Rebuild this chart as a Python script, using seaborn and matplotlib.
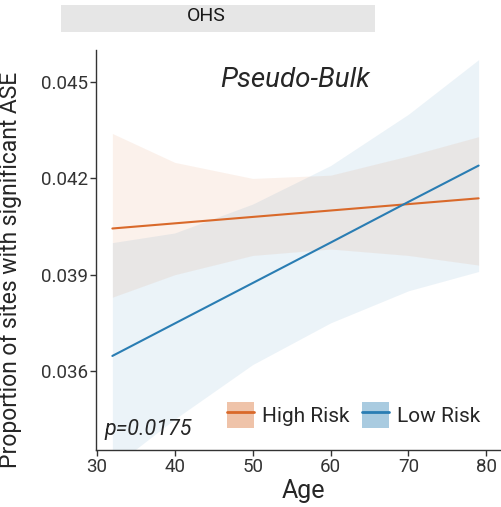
import matplotlib
matplotlib.use("Agg")
import matplotlib.pyplot as plt
from matplotlib.patches import Patch, Rectangle
from matplotlib.lines import Line2D
import seaborn as sns
import pandas as pd

# Fitted proportion of sites with significant ASE by age, with 95% CI
age = [32, 40, 50, 60, 70, 79]
high_fit = [0.04044, 0.04060, 0.04080, 0.04100, 0.04120, 0.04138]
high_lo = [0.03830, 0.03900, 0.03960, 0.03980, 0.03960, 0.03930]
high_hi = [0.04340, 0.04250, 0.04200, 0.04210, 0.04270, 0.04330]
low_fit = [0.03647, 0.03748, 0.03874, 0.04000, 0.04127, 0.04240]
low_lo = [0.03300, 0.03450, 0.03620, 0.03750, 0.03850, 0.03910]
low_hi = [0.04000, 0.04030, 0.04120, 0.04240, 0.04400, 0.04570]

groups = ["High Risk", "Low Risk"]
colors = {"High Risk": "#D9692A", "Low Risk": "#2A7DB3"}
x_ticks = [30, 40, 50, 60, 70, 80]
y_ticks = [0.036, 0.039, 0.042, 0.045]

df = pd.DataFrame({
    "Age": age * 2,
    "fit": high_fit + low_fit,
    "lo": high_lo + low_lo,
    "hi": high_hi + low_hi,
    "group": ["High Risk"] * len(age) + ["Low Risk"] * len(age),
})

sns.set_style("white")
plt.rcParams["font.family"] = ["Roboto", "DejaVu Sans"]

fig = plt.figure(figsize=(5.02, 5.07), dpi=100)
ax = fig.add_axes([96 / 502, 1 - 450 / 507, 1 - 96 / 502, 400 / 507])

for g in groups:
    sub = df[df["group"] == g]
    ax.fill_between(sub["Age"], sub["lo"], sub["hi"], color=colors[g],
                    alpha=0.09, linewidth=0)
sns.lineplot(data=df, x="Age", y="fit", hue="group", palette=colors,
             linewidth=1.5, legend=False, ax=ax)

ax.set_xlim(29.9, 82.0)
ax.set_ylim(0.03354, 0.0460)
ax.set_xticks(x_ticks)
ax.set_yticks(y_ticks)
ax.set_yticklabels([f"{v:.3f}" for v in y_ticks])
ax.tick_params(axis="both", labelsize=13.5, length=4, width=1, color="#333333",
               labelcolor="#333333", direction="out", bottom=True, left=True, pad=2)
for s in ["top", "right"]:
    ax.spines[s].set_visible(False)
for s in ["left", "bottom"]:
    ax.spines[s].set_color("#333333")
    ax.spines[s].set_linewidth(1.0)

ax.set_xlabel("Age", fontsize=18)
ax.set_ylabel("Proportion of sites with significant ASE", fontsize=16.5)
ax.xaxis.set_label_coords(0.512, -0.073)
ax.yaxis.set_label_coords(-0.183, 0.45)

ax.text(0.49, 0.925, "Pseudo-Bulk", transform=ax.transAxes, ha="center", va="center",
        fontsize=20, style="italic")
ax.text(0.022, 0.05, "p=0.0175", transform=ax.transAxes, ha="left", va="center",
        fontsize=15.5, style="italic")

handles = [
    (Patch(facecolor=colors[g], alpha=0.4, edgecolor="none"),
     Line2D([], [], color=colors[g], linewidth=2))
    for g in groups
]
ax.legend(handles, groups, loc="center right", bbox_to_anchor=(0.968, 0.088), ncol=2,
          frameon=False, fontsize=15, handlelength=1.3, handleheight=1.5,
          columnspacing=0.6, handletextpad=0.4, borderaxespad=0)

# Facet strip
fig.patches.append(Rectangle((61 / 502, 1 - 32 / 507), 314 / 502, 27 / 507,
                             transform=fig.transFigure, facecolor="#E6E6E6",
                             edgecolor="none"))
fig.text(206 / 502, 1 - 16 / 507, "OHS", ha="center", va="center", fontsize=14,
         color="#1A1A1A")

fig.savefig("out.png", dpi=100, facecolor="white")
